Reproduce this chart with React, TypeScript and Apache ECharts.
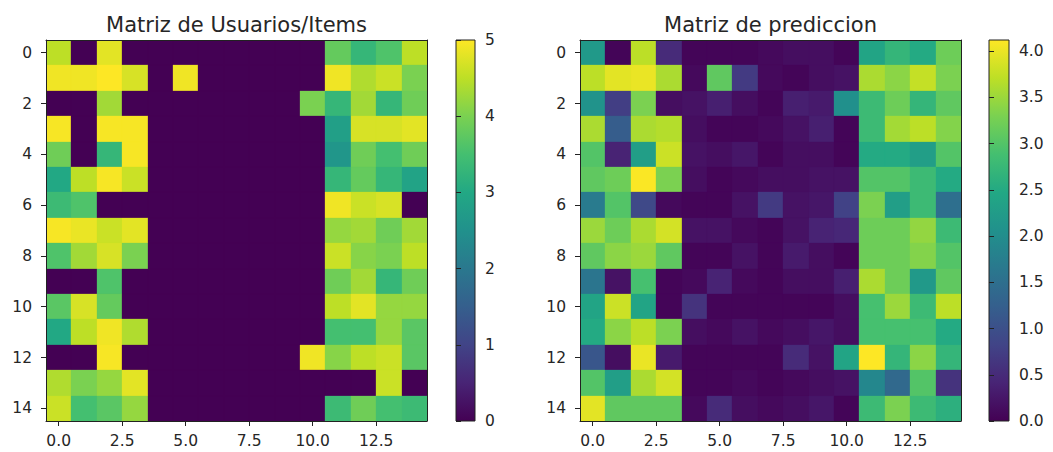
import React, { useEffect, useRef } from 'react';
import * as echarts from 'echarts';

// ---- data ----
const titleUsuarios = 'Matriz de Usuarios/Items';
const titlePrediccion = 'Matriz de prediccion';

const matUsuarios: number[][] = [
  [4.5, 0, 4.8, 0, 0, 0, 0, 0, 0, 0, 0, 3.8, 3.3, 3.6, 4.5],
  [4.9, 4.9, 5.0, 4.7, 0, 4.9, 0, 0, 0, 0, 0, 4.9, 4.4, 4.6, 4.0],
  [0, 0, 4.3, 0, 0, 0, 0, 0, 0, 0, 4.0, 3.3, 4.3, 3.3, 3.9],
  [4.95, 0, 4.95, 4.95, 0, 0, 0, 0, 0, 0, 0, 2.8, 4.7, 4.7, 4.8],
  [3.9, 0, 3.3, 4.95, 0, 0, 0, 0, 0, 0, 0, 2.6, 3.9, 3.5, 3.9],
  [3.0, 4.5, 4.95, 4.6, 0, 0, 0, 0, 0, 0, 0, 3.3, 3.8, 3.3, 2.9],
  [3.4, 3.6, 0, 0, 0, 0, 0, 0, 0, 0, 0, 4.9, 4.6, 4.7, 0],
  [4.95, 4.85, 4.6, 4.8, 0, 0, 0, 0, 0, 0, 0, 4.2, 4.3, 3.9, 4.3],
  [3.6, 4.3, 4.7, 4.0, 0, 0, 0, 0, 0, 0, 0, 4.6, 4.1, 4.0, 4.5],
  [0, 0, 3.6, 0, 0, 0, 0, 0, 0, 0, 0, 3.9, 4.3, 3.3, 3.9],
  [3.7, 4.7, 3.8, 0, 0, 0, 0, 0, 0, 0, 0, 4.5, 4.8, 4.2, 4.2],
  [3.0, 4.5, 4.9, 4.4, 0, 0, 0, 0, 0, 0, 0, 3.5, 3.5, 4.2, 3.7],
  [0, 0, 4.95, 0, 0, 0, 0, 0, 0, 0, 4.9, 4.1, 4.5, 4.6, 3.7],
  [4.4, 4.0, 4.2, 4.8, 0, 0, 0, 0, 0, 0, 0, 0, 0, 4.6, 0],
  [4.6, 3.5, 3.7, 4.2, 0, 0, 0, 0, 0, 0, 0, 3.4, 3.9, 3.5, 3.4],
];

const matPrediccion: number[][] = [
  [2.2, 0.05, 3.7, 0.5, 0.05, 0.05, 0.05, 0.1, 0.15, 0.15, 0.05, 2.4, 2.7, 2.5, 3.2],
  [3.7, 3.95, 4.0, 3.6, 0.1, 3.1, 0.7, 0.1, 0.05, 0.15, 0.2, 3.6, 3.4, 3.75, 3.3],
  [2.1, 0.75, 3.3, 0.15, 0.2, 0.35, 0.15, 0.05, 0.35, 0.3, 2.05, 2.8, 3.2, 2.7, 3.1],
  [3.6, 1.2, 3.6, 3.65, 0.15, 0.05, 0.05, 0.1, 0.2, 0.35, 0.05, 2.8, 3.55, 3.7, 3.35],
  [3.0, 0.4, 2.3, 3.8, 0.2, 0.15, 0.25, 0.05, 0.15, 0.15, 0.05, 2.5, 2.5, 2.3, 3.0],
  [3.1, 3.2, 4.1, 3.3, 0.15, 0.05, 0.1, 0.15, 0.15, 0.2, 0.2, 3.0, 3.0, 2.8, 2.5],
  [1.7, 3.0, 0.9, 0.1, 0.05, 0.05, 0.2, 0.7, 0.2, 0.25, 0.8, 3.3, 2.3, 2.8, 1.5],
  [3.5, 3.2, 3.6, 3.85, 0.2, 0.2, 0.1, 0.05, 0.2, 0.4, 0.45, 3.2, 3.2, 3.45, 2.8],
  [3.1, 3.4, 3.5, 3.1, 0.05, 0.05, 0.2, 0.05, 0.3, 0.15, 0.05, 3.2, 3.2, 3.35, 3.0],
  [1.6, 0.2, 2.9, 0.05, 0.1, 0.4, 0.1, 0.05, 0.15, 0.15, 0.35, 3.6, 3.2, 2.2, 3.1],
  [2.4, 3.8, 2.4, 0.05, 0.6, 0.05, 0.05, 0.05, 0.05, 0.05, 0.15, 2.9, 3.5, 2.8, 3.7],
  [2.5, 3.4, 3.7, 3.3, 0.15, 0.1, 0.2, 0.1, 0.15, 0.25, 0.15, 2.9, 2.9, 2.9, 2.5],
  [1.1, 0.15, 4.0, 0.3, 0.05, 0.05, 0.05, 0.05, 0.5, 0.2, 2.4, 4.12, 2.7, 3.4, 2.7],
  [3.0, 2.3, 3.6, 3.85, 0.05, 0.05, 0.1, 0.05, 0.1, 0.15, 0.2, 1.9, 1.4, 3.0, 0.6],
  [3.95, 3.1, 3.1, 3.1, 0.1, 0.5, 0.15, 0.1, 0.15, 0.25, 0.05, 2.8, 3.3, 2.8, 2.6],
];

const xTickValues = [0, 2.5, 5, 7.5, 10, 12.5];
const yTickValues = [0, 2, 4, 6, 8, 10, 12, 14];
const cbTicksUsuarios = [0, 1, 2, 3, 4, 5];
const cbTicksPrediccion = [0, 0.5, 1, 1.5, 2, 2.5, 3, 3.5, 4];
const minUsuarios = 0;
const maxUsuarios = 5;
const minPrediccion = 0;
const maxPrediccion = 4.12;

const viridis = [
  '#440154', '#482475', '#414487', '#355f8d', '#2a788e', '#21918c',
  '#22a884', '#44bf70', '#7ad151', '#bddf26', '#fde725',
];

// ---- styling ----
const FONT = 'DejaVu Sans';
const TXT = '#262626';
const LINE = '#222222';

function toCells(m: number[][]) {
  const out: number[][] = [];
  m.forEach((row, y) => row.forEach((v, x) => out.push([x, y, v])));
  return out;
}

const cellRender = (params: any, api: any) => {
  const x = api.value(0);
  const y = api.value(1);
  const p0 = api.coord([x - 0.5, y - 0.5]);
  const p1 = api.coord([x + 0.5, y + 0.5]);
  const xa = Math.round(Math.min(p0[0], p1[0]));
  const xb = Math.round(Math.max(p0[0], p1[0]));
  const ya = Math.round(Math.min(p0[1], p1[1]));
  const yb = Math.round(Math.max(p0[1], p1[1]));
  return {
    type: 'rect',
    shape: { x: xa, y: ya, width: xb - xa, height: yb - ya },
    style: { fill: api.visual('color'), stroke: api.visual('color'), lineWidth: 0.3 },
  };
};

const barRender = (params: any, api: any) => {
  const p0 = api.coord([0, api.value(1)]);
  const p1 = api.coord([1, api.value(2)]);
  const stops = viridis.map((c, i) => ({ offset: i / (viridis.length - 1), color: c }));
  return {
    type: 'rect',
    shape: {
      x: Math.min(p0[0], p1[0]),
      y: Math.min(p0[1], p1[1]),
      width: Math.abs(p1[0] - p0[0]),
      height: Math.abs(p1[1] - p0[1]),
    },
    style: {
      fill: new echarts.graphic.LinearGradient(0, 1, 0, 0, stops),
      stroke: LINE,
      lineWidth: 1,
    },
  };
};

const labelStyle = { color: TXT, fontFamily: FONT, fontSize: 15.5 };

function heatAxes(gridIndex: number) {
  const xBottom = {
    type: 'value', gridIndex, position: 'bottom', min: -0.5, max: 14.5, z: 5,
    axisLine: { show: true, onZero: false, lineStyle: { color: LINE, width: 1 } },
    axisTick: { show: true, length: 5, customValues: xTickValues, lineStyle: { color: LINE } },
    axisLabel: { ...labelStyle, margin: 12, customValues: xTickValues, formatter: (v: number) => v.toFixed(1) },
    splitLine: { show: false },
  };
  const xTop = {
    type: 'value', gridIndex, position: 'top', min: -0.5, max: 14.5, z: 5,
    axisLine: { show: true, onZero: false, lineStyle: { color: LINE, width: 1 } },
    axisTick: { show: false }, axisLabel: { show: false }, splitLine: { show: false },
  };
  const yLeft = {
    type: 'value', gridIndex, position: 'left', min: -0.5, max: 14.5, inverse: true, z: 5,
    axisLine: { show: true, onZero: false, lineStyle: { color: LINE, width: 1 } },
    axisTick: { show: true, length: 5, customValues: yTickValues, lineStyle: { color: LINE } },
    axisLabel: { ...labelStyle, margin: 14, customValues: yTickValues },
    splitLine: { show: false },
  };
  const yRight = {
    type: 'value', gridIndex, position: 'right', min: -0.5, max: 14.5, inverse: true, z: 5,
    axisLine: { show: true, onZero: false, lineStyle: { color: LINE, width: 1 } },
    axisTick: { show: false }, axisLabel: { show: false }, splitLine: { show: false },
  };
  return { x: [xBottom, xTop], y: [yLeft, yRight] };
}

function barAxes(gridIndex: number, min: number, max: number, ticks: number[], fmt: (v: number) => string) {
  const x = {
    type: 'value', gridIndex, min: 0, max: 1, show: false,
  };
  const y = {
    type: 'value', gridIndex, position: 'right', min, max, z: 5,
    axisLine: { show: false },
    axisTick: { show: true, length: 5, customValues: ticks, lineStyle: { color: LINE } },
    axisLabel: { ...labelStyle, margin: 10, customValues: ticks, formatter: fmt },
    splitLine: { show: false },
  };
  return { x, y };
}

export default function App() {
  const ref = useRef<HTMLDivElement>(null);

  useEffect(() => {
    if (!ref.current) return;
    const chart = echarts.init(ref.current, undefined, { renderer: 'svg' });

    const top = 40;
    const h = 381;
    const h0 = heatAxes(0);
    const b1 = barAxes(1, minUsuarios, maxUsuarios, cbTicksUsuarios, (v) => String(v));
    const h2 = heatAxes(2);
    const b3 = barAxes(3, minPrediccion, maxPrediccion, cbTicksPrediccion, (v) => v.toFixed(1));

    const option: any = {
      animation: false,
      backgroundColor: '#ffffff',
      textStyle: { fontFamily: FONT },
      grid: [
        { left: 46, top, width: 381, height: h },
        { left: 456, top, width: 19, height: h },
        { left: 580, top, width: 381, height: h },
        { left: 989, top, width: 20, height: h },
      ],
      xAxis: [h0.x[0], h0.x[1], b1.x, h2.x[0], h2.x[1], b3.x],
      yAxis: [h0.y[0], h0.y[1], b1.y, h2.y[0], h2.y[1], b3.y],
      visualMap: [
        {
          type: 'continuous', show: false, seriesIndex: 0, dimension: 2,
          min: minUsuarios, max: maxUsuarios, inRange: { color: viridis },
        },
        {
          type: 'continuous', show: false, seriesIndex: 2, dimension: 2,
          min: minPrediccion, max: maxPrediccion, inRange: { color: viridis },
        },
      ],
      graphic: [
        {
          type: 'text', x: 236.5, y: 24.5,
          style: { text: titleUsuarios, fill: TXT, fontFamily: FONT, fontSize: 21, textAlign: 'center', textVerticalAlign: 'middle' },
        },
        {
          type: 'text', x: 770.5, y: 24.5,
          style: { text: titlePrediccion, fill: TXT, fontFamily: FONT, fontSize: 21, textAlign: 'center', textVerticalAlign: 'middle' },
        },
      ],
      series: [
        {
          type: 'custom', xAxisIndex: 0, yAxisIndex: 0, clip: true,
          renderItem: cellRender, data: toCells(matUsuarios),
          encode: { x: 0, y: 1 },
        },
        {
          type: 'custom', xAxisIndex: 2, yAxisIndex: 2, clip: false,
          renderItem: barRender, data: [[0, minUsuarios, maxUsuarios]],
          encode: { x: 0, y: [1, 2] },
        },
        {
          type: 'custom', xAxisIndex: 3, yAxisIndex: 3, clip: true,
          renderItem: cellRender, data: toCells(matPrediccion),
          encode: { x: 0, y: 1 },
        },
        {
          type: 'custom', xAxisIndex: 5, yAxisIndex: 5, clip: false,
          renderItem: barRender, data: [[0, minPrediccion, maxPrediccion]],
          encode: { x: 0, y: [1, 2] },
        },
      ],
    };

    chart.setOption(option);
    return () => chart.dispose();
  }, []);

  return (
    <div
      ref={ref}
      style={{ position: 'absolute', left: 0, top: 0, width: 1053, height: 452, background: '#fff' }}
    />
  );
}
